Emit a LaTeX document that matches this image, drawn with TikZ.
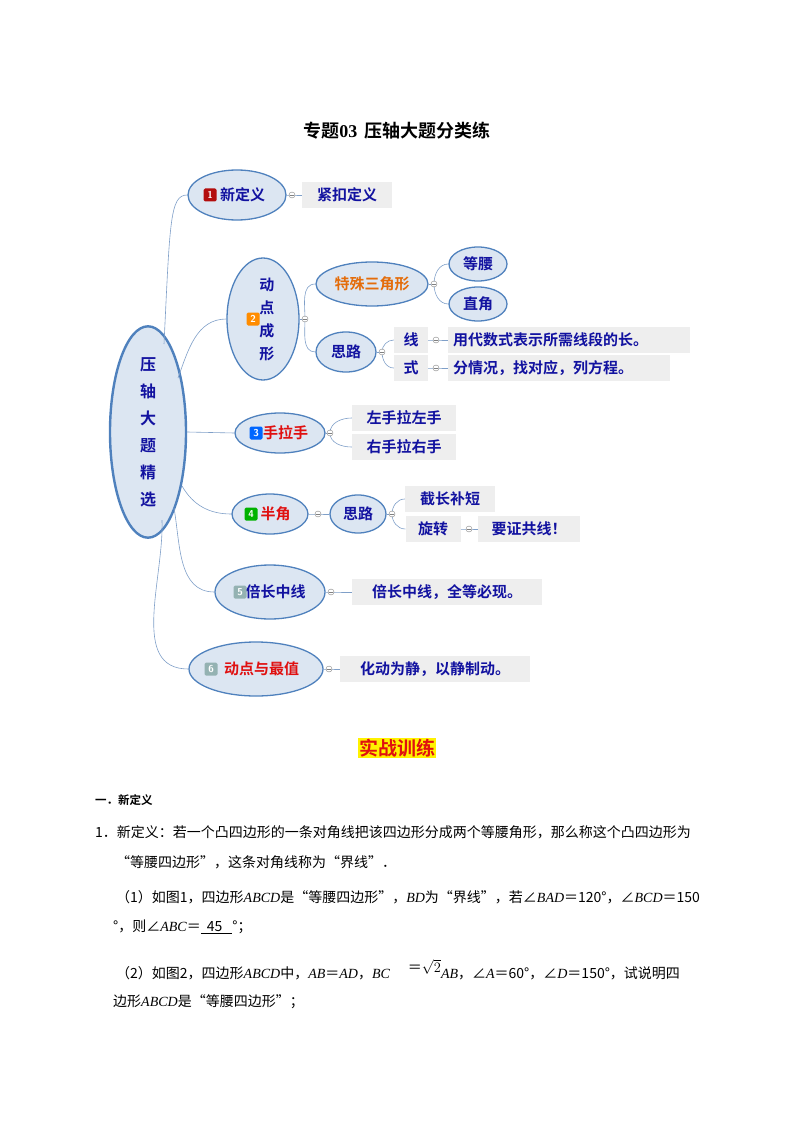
\documentclass[tikz,border=0pt]{standalone}
\usepackage{fontspec}
\setmainfont{Liberation Serif}
\newfontfamily\cjk{Noto Sans CJK SC}
\newfontfamily\cjkb{Noto Sans CJK SC Bold}
\newfontfamily\lat{Liberation Serif}
\newcommand\mi[1]{{\lat\itshape #1}}
\usetikzlibrary{shapes.geometric}
\definecolor{eb}{HTML}{4F81BD}
\definecolor{ef}{HTML}{DCE6F2}
\definecolor{tb}{HTML}{1212A0}
\definecolor{lf}{HTML}{EEEEEE}
\definecolor{tr}{HTML}{E01010}
\definecolor{to}{HTML}{E46C0A}
\definecolor{ln}{HTML}{7F9FC8}
\begin{document}
\begin{tikzpicture}[x=1pt,y=-1pt,
 topic/.style={ellipse,draw=eb,fill=ef,line width=1.3pt,inner sep=0pt,text=tb,font=\cjkb\fontsize{15}{18}\selectfont},
 leaf/.style={fill=lf,text=tb,inner sep=0pt,minimum height=26pt,font=\cjkb\fontsize{15}{18}\selectfont},
 coll/.style={circle,draw=gray,fill=white,inner sep=0pt,minimum size=6pt,line width=0.4pt},
 conn/.style={draw=ln,line width=0.6pt},
 badge/.style={rounded corners=1.5pt,text=white,inner sep=0pt,minimum size=13pt,font=\sffamily\bfseries\fontsize{10}{10}\selectfont},
 body/.style={anchor=west,inner sep=0pt,font=\cjk\fontsize{14}{16}\selectfont}]
\useasboundingbox (0,0) rectangle (794,1123);
\newcommand\cm[1]{\node[coll] (#1) at (#1) {}; \draw[gray,line width=0.4pt] ([xshift=-1.8pt]#1.center)--([xshift=1.8pt]#1.center);}
\node[font=\cjkb\fontsize{18}{20}\selectfont] (title) at (397,131) {专题{\lat\bfseries 03}\, 压轴大题分类练};
% root
\node[topic,line width=2.4pt,minimum width=76pt,minimum height=180pt,align=center,font=\cjkb\fontsize{16}{27}\selectfont] (root) at (148,432) {压\\轴\\大\\题\\精\\选};
% topics
\node[topic,minimum width=98pt,minimum height=50pt] (n1) at (237,195) {\phantom{0}\,新定义};
\node[badge,fill=tr!80!black] (b1) at (210,195) {1};
\node[topic,minimum width=72pt,minimum height=122pt,align=center,font=\cjkb\fontsize{15}{23}\selectfont] (n2) at (263,319) {\,\,\,动\\\,\,\,点\\\,\,\,成\\\,\,\,形};
\node[badge,fill=orange!90!yellow] (b2) at (253,319) {2};
\node[topic,minimum width=90pt,minimum height=40pt] (n3) at (280,433) {\phantom{0}\,\textcolor{tr}{手拉手}};
\node[badge,fill=blue!60!cyan] (b3) at (256,433) {3};
\node[topic,minimum width=76pt,minimum height=40pt] (n4) at (270,514) {\phantom{0}\,\textcolor{tr}{半角}};
\node[badge,fill=green!70!black] (b4) at (251,514) {4};
\node[topic,minimum width=110pt,minimum height=54pt] (n5) at (270,592) {\phantom{0}\,倍长中线};
\node[badge,fill=gray!60!teal!60] (b5) at (240,592) {5};
\node[topic,minimum width=134pt,minimum height=54pt] (n6) at (256,669) {\phantom{0}\,\textcolor{tr}{动点与最值}};
\node[badge,fill=gray!60!teal!60] (b6) at (211,669) {6};
% subtopics
\node[topic,minimum width=112pt,minimum height=44pt,text=to] (t1) at (372,284) {特殊三角形};
\node[topic,minimum width=58pt,minimum height=34pt] (t2) at (478,264) {等腰};
\node[topic,minimum width=58pt,minimum height=34pt] (t3) at (478,304) {直角};
\node[topic,minimum width=60pt,minimum height=40pt] (s1) at (346,352) {思路};
\node[topic,minimum width=56pt,minimum height=38pt] (s2) at (358,514) {思路};
% leaves
\node[leaf,minimum width=90pt] (l1) at (347,195) {紧扣定义};
\node[leaf,minimum width=34pt] (x1) at (411,340) {线};
\node[leaf,minimum width=34pt] (x2) at (411,368) {式};
\node[leaf,minimum width=242pt,text width=232pt,align=left] (x3) at (569,340) {用代数式表示所需线段的长。};
\node[leaf,minimum width=222pt,text width=212pt,align=left] (x4) at (559,368) {分情况，找对应，列方程。};
\node[leaf,minimum width=104pt] (h1) at (404,418) {左手拉左手};
\node[leaf,minimum width=104pt] (h2) at (404,447) {右手拉右手};
\node[leaf,minimum width=90pt] (r1) at (450,499) {截长补短};
\node[leaf,minimum width=55pt] (r2) at (433,529) {旋转};
\node[leaf,minimum width=102pt] (r3) at (529,529) {要证共线！};
\node[leaf,minimum width=190pt] (l5) at (447,592) {倍长中线，全等必现。};
\node[leaf,minimum width=190pt] (l6) at (435,669) {化动为静，以静制动。};
% root connectors
\draw[conn] (164,344) .. controls (170,220) and (170,195) .. (n1.west);
\draw[conn] (178,378) to[out=70,in=180] (n2.west);
\draw[conn] (root.east) -- (n3.west);
\draw[conn] (182,486) to[out=-60,in=180] (n4.west);
\draw[conn] (174,508) to[out=-80,in=180] (n5.west);
\draw[conn] (162,520) to[out=-88,in=180] (n6.west);
% collapse coords
\coordinate (c1) at (292,195);
\coordinate (c2) at (305,319);
\coordinate (c3) at (434,284);
\coordinate (c4) at (382,352);
\coordinate (c5) at (436,340);
\coordinate (c6) at (436,368);
\coordinate (c7) at (330,433);
\coordinate (c8) at (318,514);
\coordinate (c9) at (392,514);
\coordinate (c10) at (469,529);
\coordinate (c11) at (331,592);
\coordinate (c12) at (329,669);
\draw[conn] (n1.east)--(c1)--(l1.west);
\draw[conn] (n2.east)--(c2);
\draw[conn] (c2) to[out=90,in=180] (t1.west);
\draw[conn] (c2) to[out=-90,in=180] (s1.west);
\draw[conn] (t1.east)--(c3);
\draw[conn] (c3) to[out=90,in=180] (t2.west);
\draw[conn] (c3) to[out=-90,in=180] (t3.west);
\draw[conn] (s1.east)--(c4);
\draw[conn] (c4) to[out=90,in=180] (x1.west);
\draw[conn] (c4) to[out=-90,in=180] (x2.west);
\draw[conn] (x1.east)--(c5)--(x3.west);
\draw[conn] (x2.east)--(c6)--(x4.west);
\draw[conn] (n3.east)--(c7);
\draw[conn] (c7) to[out=90,in=180] (h1.west);
\draw[conn] (c7) to[out=-90,in=180] (h2.west);
\draw[conn] (n4.east)--(c8)--(s2.west);
\draw[conn] (s2.east)--(c9);
\draw[conn] (c9) to[out=90,in=180] (r1.west);
\draw[conn] (c9) to[out=-90,in=180] (r2.west);
\draw[conn] (r2.east)--(c10)--(r3.west);
\draw[conn] (n5.east)--(c11)--(l5.west);
\draw[conn] (n6.east)--(c12)--(l6.west);
\cm{c1}\cm{c2}\cm{c3}\cm{c4}\cm{c5}\cm{c6}\cm{c7}\cm{c8}\cm{c9}\cm{c10}\cm{c11}\cm{c12}
% bottom text
\node[fill=yellow,text=tr,inner sep=1pt,font=\cjkb\fontsize{19}{22}\selectfont] (sz) at (397,748) {实战训练};
\node[body,font=\cjkb\fontsize{11.5}{14}\selectfont] (h) at (95,800) {一．新定义};
\node[body] (p1) at (95,832) {1．新定义：若一个凸四边形的一条对角线把该四边形分成两个等腰角形，那么称这个凸四边形为};
\node[body] (p2) at (116,862) {“等腰四边形”，这条对角线称为“界线”．};
\node[body] (p3) at (116,897) {（1）如图1，四边形\mi{ABCD}是“等腰四边形”，\mi{BD}为“界线”，若∠\mi{BAD}＝120°，∠\mi{BCD}＝150};
\node[body] (p4) at (113,927) {°，则∠\mi{ABC}＝\underline{\hspace{6pt}45\hspace{10pt}}°；};
\node[body] (p5) at (116,970) {（2）如图2，四边形\mi{ABCD}中，\mi{AB}＝\mi{AD}，\mi{BC}\hspace{18pt}\raisebox{6pt}{＝$\sqrt{2}$}\mi{AB}，∠\mi{A}＝60°，∠\mi{D}＝150°，试说明四};
\node[body] (p6) at (113,1002) {边形\mi{ABCD}是“等腰四边形”；};
\end{tikzpicture}
\end{document}
